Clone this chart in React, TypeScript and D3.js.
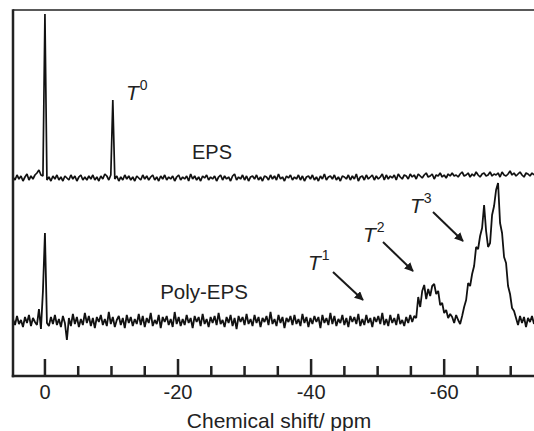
import React from "react";
import * as d3 from "d3";

// Chemical shift grid: start ppm and step (ppm decreasing)
const PPM_START = 4.8;
const PPM_STEP = -0.3;

// Poly-EPS trace (intensity above its baseline)
const polyEps = [
  2,-4,5,-3,1,-6,4,-2,6,-5,3,-1,-4,12,-8,30,88,-2,-5,4,
  -3,6,-4,2,-6,5,-2,-19,3,-5,7,-3,4,-6,2,-4,8,-2,5,-5,
  3,-7,4,-1,6,-4,2,-5,9,-3,4,-6,1,5,-4,3,-7,6,-2,4,
  -5,2,-3,7,-4,5,-6,3,-2,8,-5,1,-3,6,-7,4,-1,5,-4,2,
  -6,9,-3,4,-5,2,-4,6,-2,3,-7,5,-1,4,-5,7,-3,2,-6,4,
  -2,5,-4,8,-3,1,-6,4,-2,6,-5,3,-8,5,-1,4,-4,7,-3,2,
  -5,6,-2,4,-6,3,-1,5,-4,9,-3,2,-5,6,-2,4,-7,3,-1,5,
  -4,6,-3,2,-5,7,-2,4,-6,3,-3,5,-1,4,-7,6,-2,3,-4,8,
  -3,5,-5,2,-2,6,-4,3,-6,5,-1,4,-3,7,-5,2,-4,6,-2,3,
  -6,4,-1,5,-3,8,-4,2,-5,6,-2,3,-4,7,-3,1,-5,4,-2,6,
  -1,5,3,24,14,30,36,22,32,25,35,37,27,30,16,18,8,11,3,7,
  4,-2,6,1,-3,5,14,21,38,35,47,55,74,72,85,93,116,90,74,78,
  106,115,131,138,98,88,64,58,35,27,13,10,3,-4,5,-2,4,-6,3,-1,
  5,-3,
];

// EPS trace (intensity above its baseline)
const eps = [
  1,-2,3,-1,2,-3,1,4,-2,2,-1,3,5,8,3,2,164,-2,1,-3,
  2,-1,3,-2,1,-3,2,0,-2,3,-1,2,-3,1,3,-2,1,-2,2,-1,
  3,-2,1,-3,2,-1,4,2,-2,3,78,-1,2,-3,1,-2,3,-1,2,-2,
  1,-3,2,0,-2,3,-1,2,-2,1,3,-2,1,-3,2,-1,3,-2,1,-1,
  2,-3,1,3,-2,1,-1,2,-3,4,-1,2,-2,1,-3,2,0,3,-2,1,
  -1,2,-3,1,3,-2,2,-1,1,-3,2,4,-2,1,-1,3,-2,2,-3,1,
  2,-1,3,-2,1,-3,2,1,-2,3,-1,2,-2,4,-1,1,-3,2,0,3,
  -2,1,-1,3,-2,2,-3,1,2,-1,3,-2,1,-3,2,-1,4,-2,1,2,
  -1,3,-2,1,-3,2,1,-1,3,-2,2,-1,4,-3,1,2,-2,3,-1,1,
  3,-2,2,-1,1,4,-2,3,-1,2,0,3,-2,4,1,-1,3,2,-1,4,
  1,3,-1,4,2,0,3,5,1,2,4,-1,3,2,5,1,3,0,4,2,
  5,2,3,1,4,6,2,3,5,1,4,2,6,3,1,4,5,2,3,6,
  2,4,3,5,1,6,3,2,4,7,3,5,2,4,6,3,1,5,4,2,
  5,3,
];

const POLY_OFFSET = 55;
const EPS_OFFSET = 198;

const majorTicks = [0, -20, -40, -60];
const minorTicks = [-5, -10, -15, -25, -30, -35, -45, -50, -55, -65, -70];

const W = 534;
const H = 431;
const L = 13;
const R = 534;
const T = 10;
const B = 376;

const FONT = "'Liberation Sans', Arial, Helvetica, sans-serif";

export default function App() {
  const x = d3.scaleLinear().domain([4.8, -73.5]).range([L, R]);
  const y = d3.scaleLinear().domain([0, 366]).range([B, T]);

  const mkLine = (vals: number[], off: number) =>
    d3
      .line<number>()
      .x((_, i) => x(PPM_START + PPM_STEP * i))
      .y((v) => y(v + off))(vals) as string;

  const labels = [
    { t: "0", px: 126, py: 100, ax: null },
    { t: "1", px: 308, py: 270, ax: [333, 272, 363, 300] },
    { t: "2", px: 363, py: 242, ax: [383, 242, 413, 271] },
    { t: "3", px: 410, py: 213, ax: [433, 212, 463, 241] },
  ];

  return (
    <svg
      width={W}
      height={H}
      style={{ position: "absolute", left: 0, top: 0 }}
      fontFamily={FONT}
    >
      <defs>
        <marker
          id="ah"
          viewBox="0 0 10 10"
          refX="9"
          refY="5"
          markerWidth="4.5"
          markerHeight="4.5"
          orient="auto"
          markerUnits="strokeWidth"
        >
          <path d="M0,0 L10,5 L0,10 z" fill="#1a1a1a" />
        </marker>
      </defs>
      <rect x={0} y={0} width={W} height={H} fill="#fff" />
      <clipPath id="plot">
        <rect x={L} y={T} width={R - L} height={B - T} />
      </clipPath>
      <g clipPath="url(#plot)">
        <path d={mkLine(eps, EPS_OFFSET)} fill="none" stroke="#111" strokeWidth={1.7} strokeLinejoin="bevel" />
        <path d={mkLine(polyEps, POLY_OFFSET)} fill="none" stroke="#111" strokeWidth={1.8} strokeLinejoin="bevel" />
      </g>
      {/* frame */}
      <line x1={L} x2={R} y1={T} y2={T} stroke="#222" strokeWidth={1.5} />
      <line x1={L} x2={L} y1={T - 0.75} y2={B + 1.25} stroke="#222" strokeWidth={2.5} />
      <line x1={L - 1.25} x2={R} y1={B} y2={B} stroke="#222" strokeWidth={2.5} />
      {majorTicks.map((t) => (
        <g key={"M" + t}>
          <line x1={x(t)} x2={x(t)} y1={B} y2={B - 17} stroke="#222" strokeWidth={2.5} />
          <text x={x(t)} y={399} fontSize={20} textAnchor="middle" fill="#222">
            {t === 0 ? "0" : String(t)}
          </text>
        </g>
      ))}
      {minorTicks.map((t) => (
        <line key={"m" + t} x1={x(t)} x2={x(t)} y1={B} y2={B - 10} stroke="#222" strokeWidth={2.5} />
      ))}
      <text x={279} y={428} fontSize={21} textAnchor="middle" fill="#222">
        Chemical shift/ ppm
      </text>
      <text x={212} y={159} fontSize={20} textAnchor="middle" fill="#222">
        EPS
      </text>
      <text x={204} y={299} fontSize={20.5} textAnchor="middle" fill="#222">
        Poly-EPS
      </text>
      {labels.map((l) => (
        <g key={l.t}>
          <text x={l.px} y={l.py} fontSize={21} fontStyle="italic" fill="#222">
            T
            <tspan dy={-10} dx={1} fontSize={14} fontStyle="normal">
              {l.t}
            </tspan>
          </text>
          {l.ax && (
            <line
              x1={l.ax[0]}
              y1={l.ax[1]}
              x2={l.ax[2]}
              y2={l.ax[3]}
              stroke="#1a1a1a"
              strokeWidth={2}
              markerEnd="url(#ah)"
            />
          )}
        </g>
      ))}
    </svg>
  );
}
